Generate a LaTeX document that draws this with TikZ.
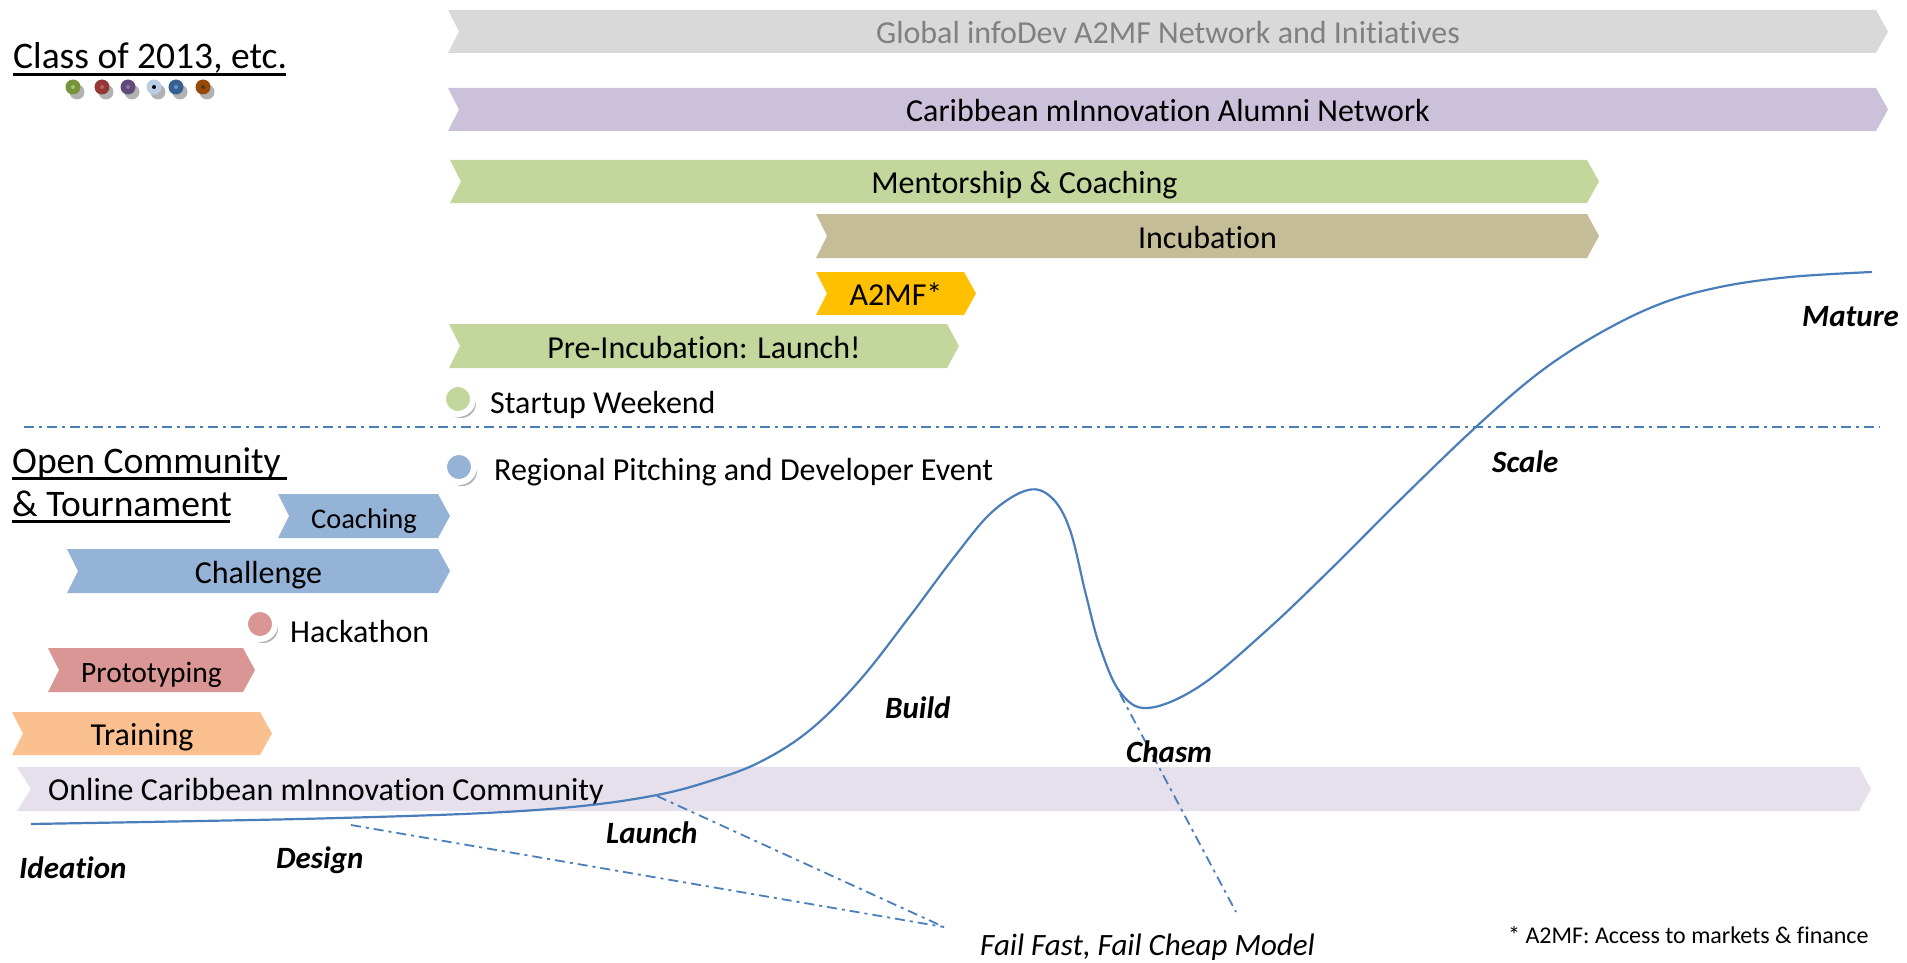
\documentclass[tikz,border=0pt]{standalone}
\usepackage{fontspec}
\setmainfont{Carlito}[Ligatures=NoCommon]
\usetikzlibrary{shadows}
\definecolor{cgray}{HTML}{D9D9D9}
\definecolor{gtext}{HTML}{808080}
\definecolor{clav}{HTML}{CCC1DA}
\definecolor{cgreen}{HTML}{C3D69B}
\definecolor{ctan}{HTML}{C4BD97}
\definecolor{cgold}{HTML}{FFC000}
\definecolor{cblue}{HTML}{95B3D7}
\definecolor{cpink}{HTML}{D99694}
\definecolor{corange}{HTML}{FAC090}
\definecolor{conline}{HTML}{E6E0EC}
\definecolor{lblue}{HTML}{4A7EBB}
\definecolor{d1}{HTML}{77933C}\definecolor{d1i}{HTML}{A5C26A}
\definecolor{d2}{HTML}{953735}\definecolor{d2i}{HTML}{C0605E}
\definecolor{d3}{HTML}{604A7B}\definecolor{d3i}{HTML}{8C74A8}
\definecolor{d4}{HTML}{B9CDE5}\definecolor{d4i}{HTML}{000000}
\definecolor{d5}{HTML}{376092}\definecolor{d5i}{HTML}{6A94C8}
\definecolor{d6}{HTML}{984807}\definecolor{d6i}{HTML}{4A3A20}
\tikzset{
  chevtext/.style={font=\fontsize{32}{38}\selectfont, inner sep=0pt, text=black},
  evtlabel/.style={font=\fontsize{32}{38}\selectfont, inner sep=0pt, anchor=base west},
  heading/.style={font=\fontsize{37.5}{45}\selectfont, inner sep=0pt, anchor=base west},
  stagefont/.style={font=\fontsize{31}{37}\selectfont\bfseries\itshape, inner sep=0pt, anchor=base west},
  evt/.style={circle, minimum size=30pt, inner sep=0pt, draw=white, line width=6pt,
    drop shadow={shadow xshift=3pt, shadow yshift=-4pt, opacity=0.3, fill=black}},
  dotc/.style={circle, minimum size=15pt, inner sep=0pt,
    drop shadow={shadow xshift=4pt, shadow yshift=-5pt, opacity=0.3, fill=black}},
  dotin/.style={circle, minimum size=4pt, inner sep=0pt},
  curve/.style={draw=lblue, line width=2.2pt},
  dashdot/.style={draw=lblue, line width=1.8pt, dash pattern=on 10pt off 5pt on 3pt off 5pt},
}
\newcommand\chev[7]{%
  \fill[#2] (#3,#5) -- ({#4-12},#5) -- (#4,{(#5+#6)/2}) -- ({#4-12},#6) -- (#3,#6) -- ({#3+11},{(#5+#6)/2}) -- cycle;
  \node[chevtext,anchor=base] (#1) at ({(#3+#4)/2},{(#5+#6)/2+12}) {#7};
}
\newcommand\stagelab[4]{%
  \node[stagefont, text=black] (#1) at (#2,#3) {#4};
}
\begin{document}
\begin{tikzpicture}[x=1pt,y=-1pt]
\useasboundingbox (0,0) rectangle (1907,963);
\fill[white] (0,0) rectangle (1907,963);

% top chevrons
\chev{glob}{cgray}{448}{1888}{10}{53}{\textcolor{gtext}{Global infoDev A2MF Network and Initiatives}}
\chev{alum}{clav}{448}{1888}{88}{131}{Caribbean mInnovation Alumni Network}
\chev{ment}{cgreen}{450}{1599}{160}{203}{Mentorship \& Coaching}
\chev{incu}{ctan}{816}{1599}{214}{258}{Incubation}
\chev{a2mf}{cgold}{816}{976}{272}{315}{A2MF*}
\chev{prei}{cgreen}{449}{959}{324}{368}{Pre-Incubation: Launch!}
% left chevrons
\tikzset{chevtext/.append style={font=\fontsize{28.5}{34}\selectfont}}
\chev{coach}{cblue}{278}{450}{494}{538}{Coaching}
\tikzset{chevtext/.append style={font=\fontsize{32}{38}\selectfont}}
\chev{chal}{cblue}{67}{450}{549}{593}{Challenge}
\tikzset{chevtext/.append style={font=\fontsize{29.5}{35}\selectfont}}
\chev{proto}{cpink}{48}{255}{648}{692}{Prototyping}
\tikzset{chevtext/.append style={font=\fontsize{32}{38}\selectfont}}
\chev{train}{corange}{12}{272}{712}{755}{Training}
% online community
\fill[conline] (17,767) -- (1859,767) -- (1871,789) -- (1859,811) -- (17,811) -- (31,789) -- cycle;
\node[chevtext, anchor=base west] (online) at (48,800.5) {Online Caribbean mInnovation Community};

% headings
\node[heading] (class) at (13,69) {Class of 2013, etc.};
\draw[line width=2.5pt] (13,74.5) -- (286,74.5);
\node[heading] (open1) at (12,473) {Open Community};
\draw[line width=2.5pt] (12,478.5) -- (287,478.5);
\node[heading] (open2) at (12,516) {\& Tournament};
\draw[line width=2.5pt] (12,521.5) -- (230,521.5);

% class dots
\foreach \x/\c [count=\i] in {73/d1,102/d2,128/d3,154/d4,176/d5,203/d6}{
  \node[dotc, fill=\c] (dot\i) at (\x,87) {};
  \node[dotin, fill=\c i] (doti\i) at (\x,87) {};
}

% events
\node[evt, fill=cgreen] (sw) at (458,399) {};
\node[evtlabel] (swl) at (490,413) {Startup Weekend};
\node[evt, fill=cblue] (rp) at (459,467) {};
\node[evtlabel] (rpl) at (494,480) {Regional Pitching and Developer Event};
\node[evt, fill=cpink] (hk) at (260,624) {};
\node[evtlabel] (hkl) at (290,642) {Hackathon};

% divider
\coordinate (divA) at (24,427);
\coordinate (divB) at (1880,427);
\draw[dashdot] (divA) -- (divB);

% curve
\draw[curve] plot[smooth, tension=0.6] coordinates {
 (31,824) (200,821) (339,818) (485,813) (582,806) (657,795) (710,781) (760,762)
 (810,730) (860,680) (910,616) (955,556) (992,512) (1028,490) (1052,498)
 (1070,530) (1086,595) (1100,647) (1120,692) (1148,708) (1200,686) (1267,630)
 (1333,567) (1400,500) (1477,426) (1540,372) (1600,333) (1660,304) (1720,287)
 (1790,277) (1872,272)};

% fail fast lines
\coordinate (ffd) at (351,825);
\coordinate (ffl) at (657,796);
\coordinate (ffc) at (1120,694);
\coordinate (ffe) at (944,927);
\coordinate (ffe2) at (1236,912);
\draw[dashdot] (ffd) -- (ffe);
\draw[dashdot] (ffl) -- (ffe);
\draw[dashdot] (ffc) -- (ffe2);

% stage labels
\stagelab{ide}{19}{878}{Ideation}
\stagelab{des}{276}{868}{Design}
\stagelab{lau}{606}{843}{Launch}
\stagelab{bui}{885}{718}{Build}
\stagelab{cha}{1126}{762}{Chasm}
\stagelab{sca}{1492}{472}{Scale}
\stagelab{mat}{1802}{326}{Mature}

% fail fast
\node[font=\fontsize{31}{37}\selectfont\itshape, inner sep=0pt, anchor=base west] (ff) at (980,955) {Fail Fast, Fail Cheap Model};

% footnote
\node[font=\fontsize{24}{29}\selectfont, inner sep=0pt, anchor=base west] (foot) at (1508,943) {* A2MF: Access to markets \& finance};
\end{tikzpicture}
\end{document}
